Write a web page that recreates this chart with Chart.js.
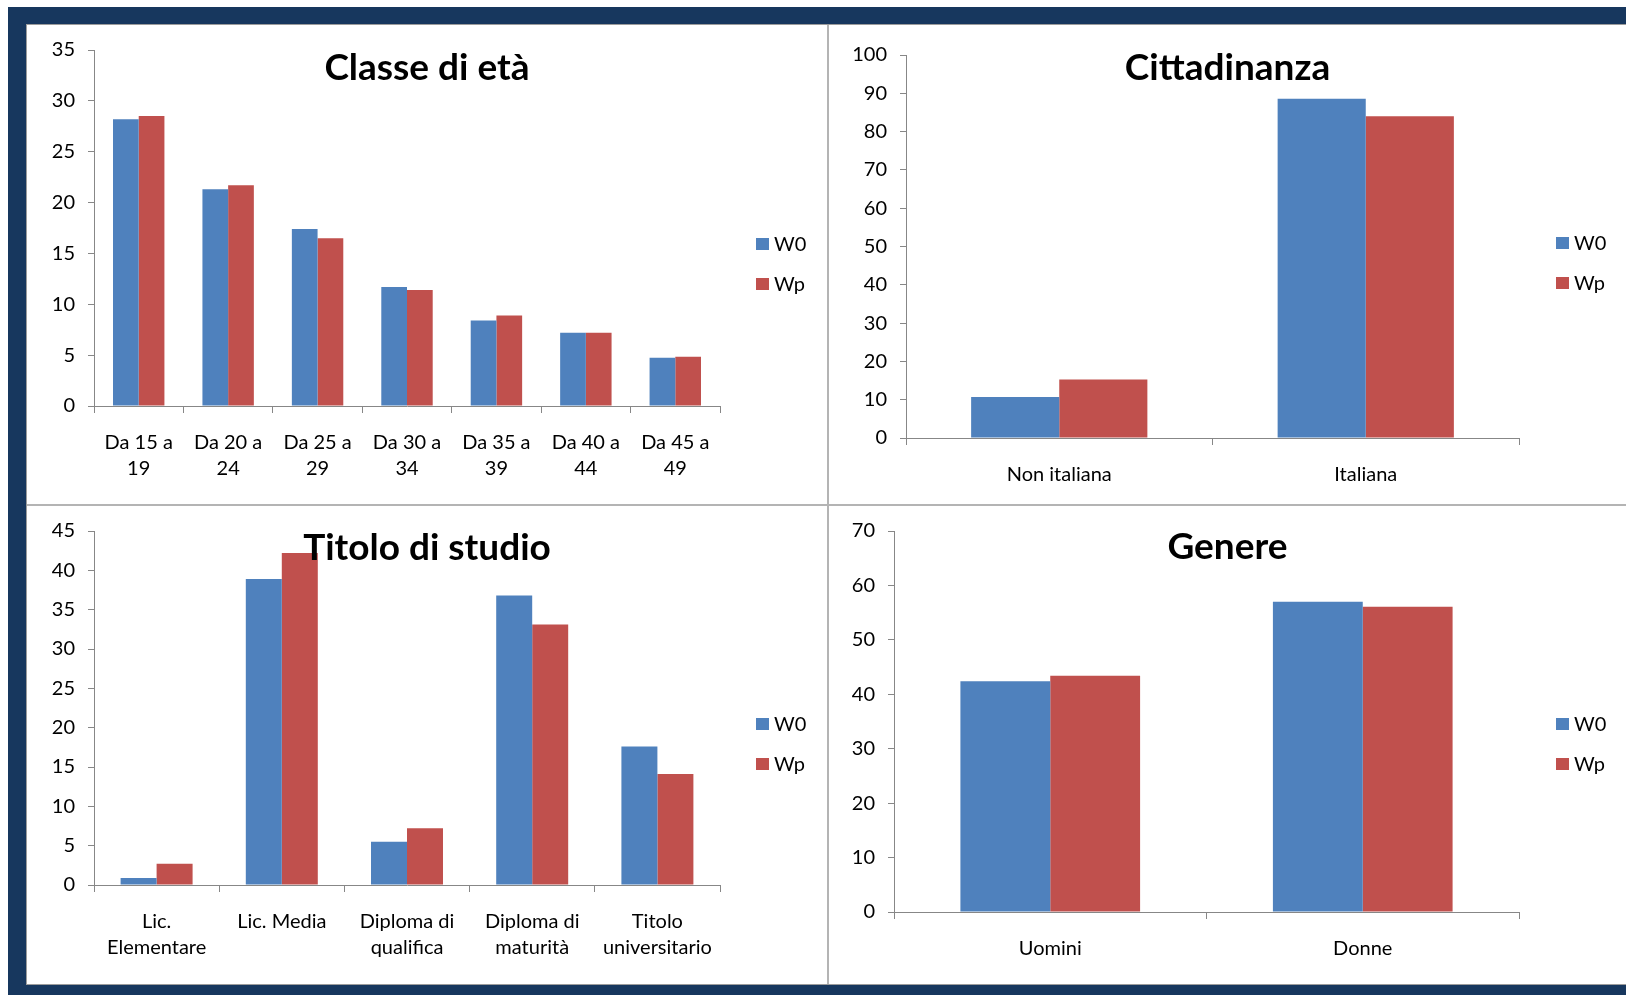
<!DOCTYPE html>
<html>
<head>
<meta charset="utf-8">
<script src="https://cdn.jsdelivr.net/npm/chart.js@4.4.1/dist/chart.umd.min.js"></script>
<style>
  html, body { margin: 0; padding: 0; background: #fff; }
  #frame { position: absolute; left: 8px; top: 7px; width: 1618px; height: 988px; background: #17375e; }
  #sheet { position: absolute; left: 26px; top: 24px; width: 1600px; height: 961px; background: #fff;
           border-top: 1px solid #9c9c9c; border-left: 1px solid #9c9c9c; border-bottom: 1px solid #9c9c9c; box-sizing: border-box; }
  .panel { position: absolute; }
  .line { position: absolute; background: #b4b4b4; }
</style>
</head>
<body>
<div id="frame"></div>
<div id="sheet"></div>
<div class="line" style="left:27px; top:504px; width:1599px; height:2px;"></div>
<div class="line" style="left:827px; top:25px; width:2px; height:959px;"></div>

<div class="panel" style="left:27px; top:25px;"><canvas id="chartEta" width="800" height="479"></canvas></div>
<div class="panel" style="left:829px; top:25px;"><canvas id="chartCitt" width="797" height="479"></canvas></div>
<div class="panel" style="left:27px; top:506px;"><canvas id="chartStudio" width="800" height="478"></canvas></div>
<div class="panel" style="left:829px; top:506px;"><canvas id="chartGenere" width="797" height="478"></canvas></div>

<script>
// dati
const seriesNames = ['W0', 'Wp'];

const etaLabels = [['Da 15 a', '19'], ['Da 20 a', '24'], ['Da 25 a', '29'], ['Da 30 a', '34'], ['Da 35 a', '39'], ['Da 40 a', '44'], ['Da 45 a', '49']];
const etaW0 = [28.2, 21.3, 17.4, 11.7, 8.4, 7.2, 4.75];
const etaWp = [28.5, 21.7, 16.5, 11.4, 8.9, 7.2, 4.85];

const cittLabels = ['Non italiana', 'Italiana'];
const cittW0 = [10.7, 88.6];
const cittWp = [15.3, 84.0];

const studioLabels = [['Lic.', 'Elementare'], 'Lic. Media', ['Diploma di', 'qualifica'], ['Diploma di', 'maturità'], ['Titolo', 'universitario']];
const studioW0 = [0.9, 38.9, 5.5, 36.8, 17.6];
const studioWp = [2.7, 42.2, 7.2, 33.1, 14.1];

const genereLabels = ['Uomini', 'Donne'];
const genereW0 = [42.4, 57.0];
const genereWp = [43.4, 56.1];

const blue = '#4f81bd';
const red = '#c0504d';
const axisGrey = '#878787';

Chart.defaults.font.family = 'Lato, "Open Sans", sans-serif';
Chart.defaults.color = '#000';

// titolo sovrapposto all'area del grafico + legenda a destra (stile Excel)
const overlayPlugin = {
    id: 'overlay',
    afterDatasetsDraw(chart, args, opts) {
        const ctx = chart.ctx;
        ctx.save();
        ctx.fillStyle = '#000';
        ctx.font = 'bold 37px Lato';
        ctx.textAlign = 'center';
        ctx.textBaseline = 'alphabetic';
        ctx.fillText(opts.text, chart.width / 2, opts.titleY);

        ctx.font = '20px Lato';
        ctx.textAlign = 'left';
        chart.data.datasets.forEach((ds, i) => {
            const y = opts.legendY + i * 40;
            ctx.fillStyle = ds.backgroundColor;
            ctx.fillRect(opts.legendX, y, 13, 12);
            ctx.fillStyle = '#000';
            ctx.fillText(ds.label, opts.legendX + 18, y + 13);
        });
        ctx.restore();
    }
};

function makeChart(id, labels, w0, wp, maxY, step, g) {
    const ctx = document.getElementById(id).getContext('2d');
    return new Chart(ctx, {
        type: 'bar',
        data: {
            labels: labels,
            datasets: [
                { label: seriesNames[0], data: w0, backgroundColor: blue },
                { label: seriesNames[1], data: wp, backgroundColor: red }
            ]
        },
        options: {
            responsive: false,
            animation: false,
            barPercentage: 1,
            categoryPercentage: 0.575,
            layout: { padding: { left: 0, top: g.top, right: g.right, bottom: 0 } },
            scales: {
                x: {
                    grid: { drawOnChartArea: false, tickLength: 7, color: axisGrey, offset: true },
                    border: { color: axisGrey },
                    ticks: { font: { size: 20, lineHeight: 1.3 }, padding: 17, maxRotation: 0, autoSkip: false },
                    afterFit: (s) => { s.height = g.xh; }
                },
                y: {
                    min: 0,
                    max: maxY,
                    grid: { drawOnChartArea: false, tickLength: 6, color: axisGrey },
                    border: { color: axisGrey },
                    ticks: { stepSize: step, font: { size: 20 }, padding: 13 },
                    afterFit: (s) => { s.width = g.left; }
                }
            },
            plugins: {
                legend: { display: false },
                tooltip: { enabled: false },
                overlay: { text: g.title, titleY: g.titleY, legendX: g.legendX, legendY: g.legendY }
            }
        },
        plugins: [overlayPlugin]
    });
}

makeChart('chartEta', etaLabels, etaW0, etaWp, 35, 5,
    { title: 'Classe di età', left: 67, top: 23, right: 107, xh: 98, titleY: 55, legendX: 729, legendY: 213 });
makeChart('chartCitt', cittLabels, cittW0, cittWp, 100, 10,
    { title: 'Cittadinanza', left: 77, top: 30, right: 107, xh: 66, titleY: 55, legendX: 727, legendY: 212 });
makeChart('chartStudio', studioLabels, studioW0, studioWp, 45, 5,
    { title: 'Titolo di studio', left: 67, top: 23, right: 107, xh: 99, titleY: 54, legendX: 729, legendY: 212 });
makeChart('chartGenere', genereLabels, genereW0, genereWp, 70, 10,
    { title: 'Genere', left: 65, top: 22, right: 107, xh: 72, titleY: 53, legendX: 727, legendY: 212 });
</script>
</body>
</html>
